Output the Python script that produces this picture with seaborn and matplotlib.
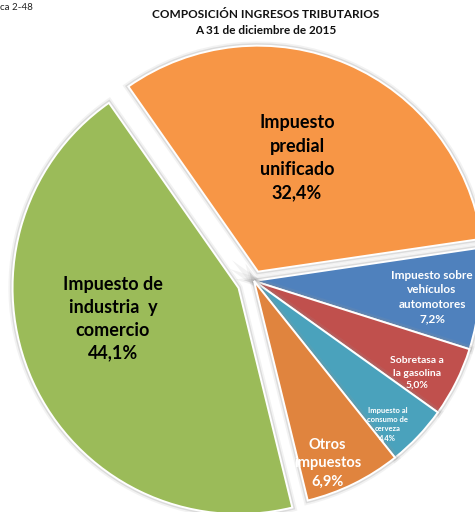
import numpy as np
import matplotlib
matplotlib.use("Agg")
import matplotlib.pyplot as plt
import matplotlib.patheffects as pe
import seaborn as sns

sns.set_theme(style="white")
plt.rcParams["font.family"] = ["Lato", "DejaVu Sans"]

# Composition of tax revenue, 31 Dec 2015 (percent)
categories = [
    "Impuesto\npredial\nunificado",
    "Impuesto sobre\nvehículos\nautomotores",
    "Sobretasa a\nla gasolina",
    "Impuesto al\nconsumo de\ncerveza",
    "Otros\nimpuestos",
    "Impuesto de\nindustria  y\ncomercio",
]
shares = [32.4, 7.2, 5.0, 4.4, 6.9, 44.1]
colors = ["#F79646", "#4F81BD", "#C0504D", "#4AA2BC", "#E0843E", "#9BBB59"]
explode_frac = [0.045, 0.0, 0.0, 0.0, 0.0, 0.075]

# label styling per slice: (angle offset from bisector, radial fraction, size, color, spacing)
label_style = [
    (4.4, 0.533, 13, "black", 1.45),
    (-0.6, 0.791, 8.5, "white", 1.4),
    (-2.9, 0.828, 7.5, "white", 1.45),
    (-3.5, 0.867, 5.5, "white", 1.4),
    (-4.2, 0.869, 10.5, "white", 1.4),
    (-10.6, 0.572, 13, "black", 1.4),
]

W, H = 475, 512
fig = plt.figure(figsize=(W / 100, H / 100), dpi=100)
ax = fig.add_axes([0, 0, 1, 1])

cx, cy, R = 254, H - 281, 226
wedges, _ = ax.pie(
    shares,
    colors=colors,
    explode=[e * R for e in explode_frac],
    startangle=125,
    counterclock=False,
    radius=R,
    center=(cx, cy),
    wedgeprops=dict(edgecolor="white", linewidth=1.4),
)
for w in wedges:
    w.set_path_effects([
        pe.Stroke(linewidth=6, foreground="#9a9a9a", alpha=0.12),
        pe.Stroke(linewidth=3.5, foreground="#8a8a8a", alpha=0.22),
        pe.Normal(),
    ])

for w, lab, val, (dth, rf, fs, col, ls) in zip(wedges, categories, shares, label_style):
    mid = np.deg2rad((w.theta1 + w.theta2) / 2 + dth)
    wx, wy = w.center
    tx = wx + rf * R * np.cos(mid)
    ty = wy + rf * R * np.sin(mid)
    txt = f"{lab}\n{val:.1f}%".replace(".", ",")
    ax.text(tx, ty, txt, ha="center", va="center", fontsize=fs,
            fontweight="bold", color=col, linespacing=ls)

ax.set_xlim(0, W)
ax.set_ylim(0, H)
ax.set_aspect("equal")
ax.axis("off")

fig.text(0.0, 1 - 8 / H, "ca 2-48", ha="left", va="center", fontsize=7, color="#222222")
fig.text(266 / W, 1 - 14 / H, "COMPOSICIÓN INGRESOS TRIBUTARIOS", ha="center",
         va="center", fontsize=8.5, fontweight="bold", color="#111111")
fig.text(266 / W, 1 - 31 / H, "A 31 de diciembre de 2015", ha="center",
         va="center", fontsize=8.5, fontweight="bold", color="#111111")

fig.savefig("out.png", dpi=100, facecolor="white")
